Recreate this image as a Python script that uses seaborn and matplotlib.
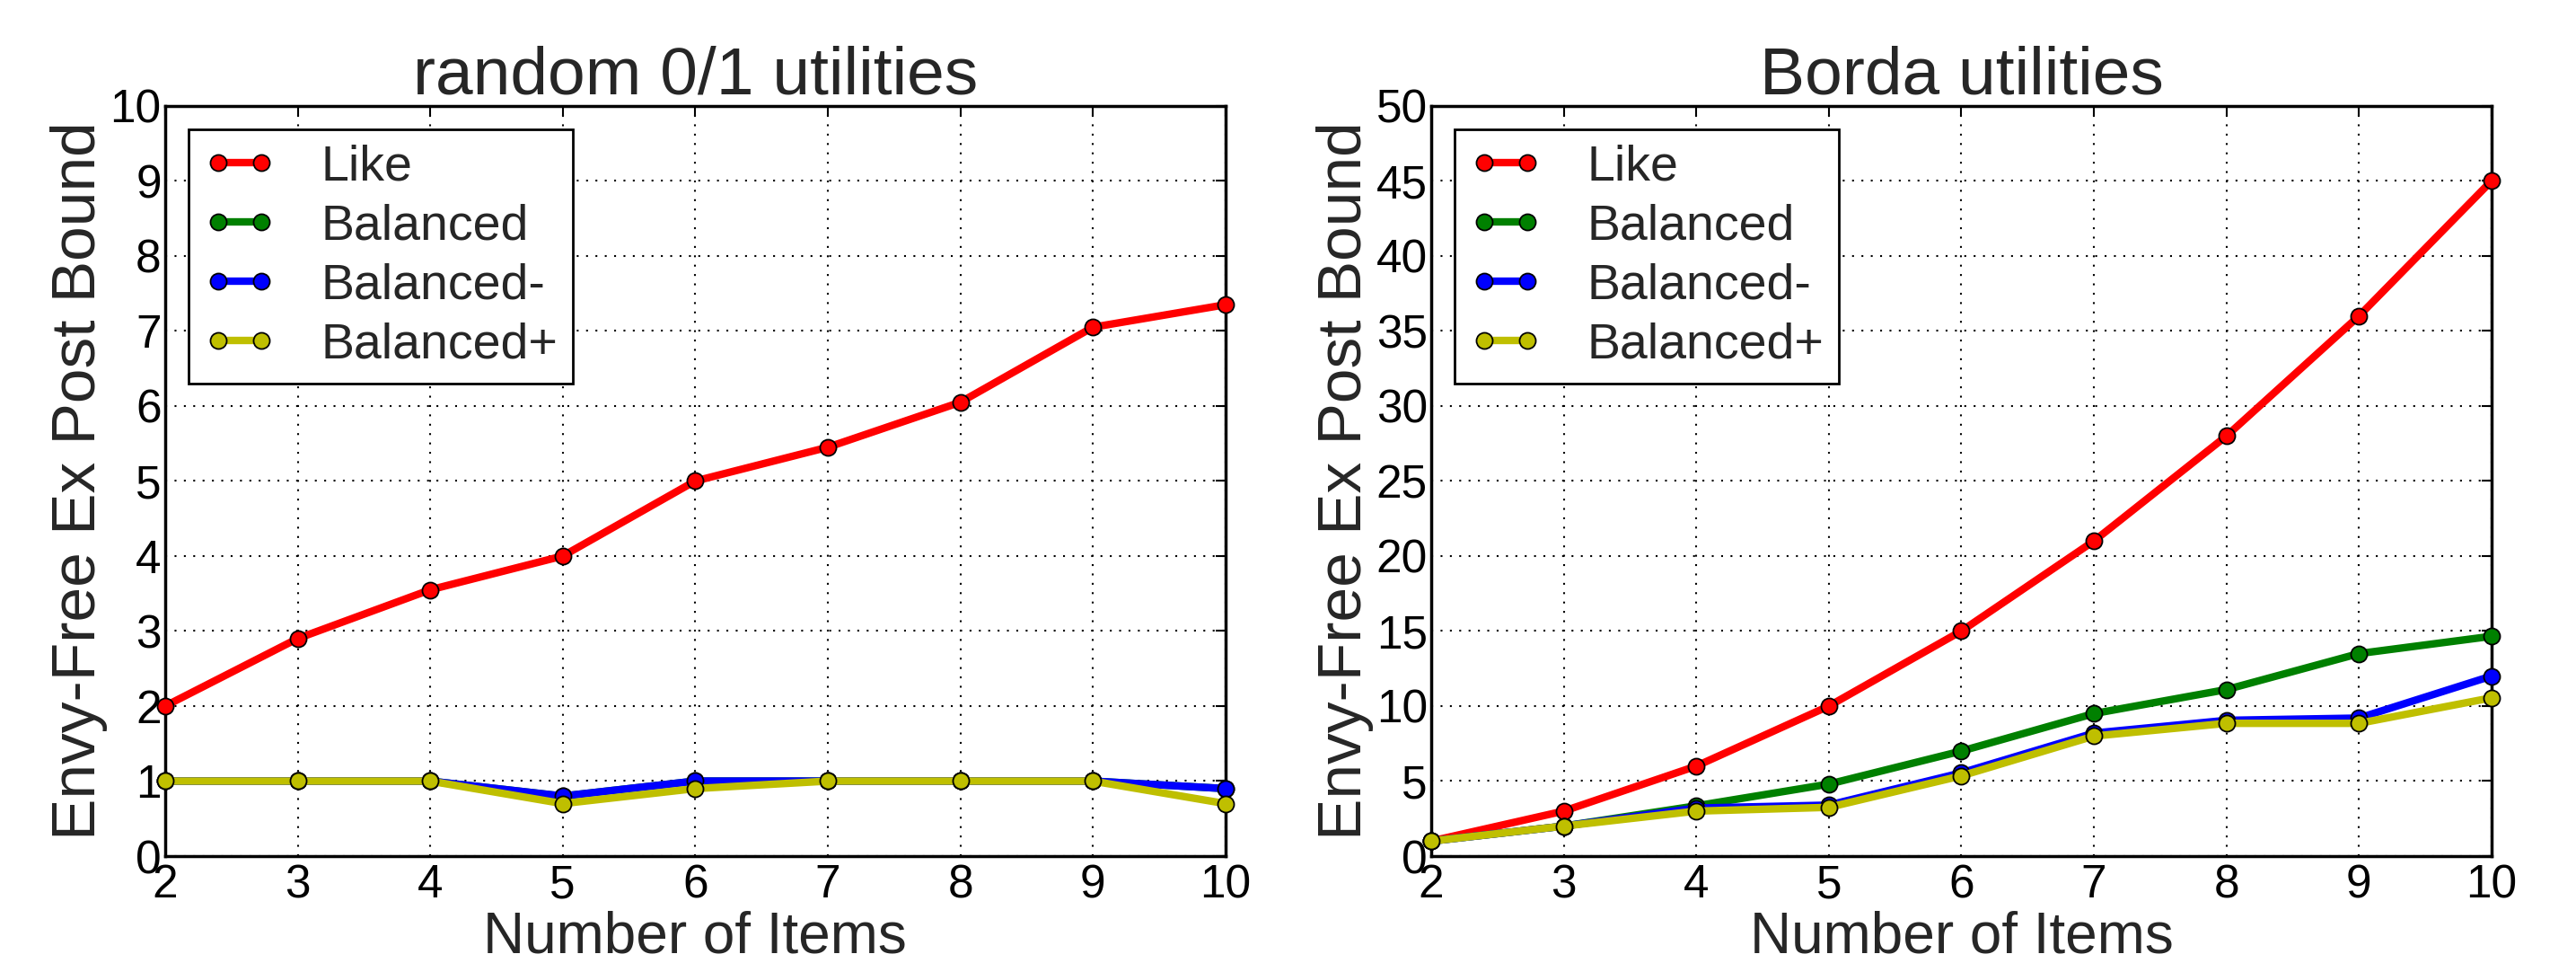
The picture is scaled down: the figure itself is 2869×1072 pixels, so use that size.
import matplotlib
matplotlib.use("Agg")
import matplotlib.pyplot as plt
import seaborn as sns
import pandas as pd

items = [2, 3, 4, 5, 6, 7, 8, 9, 10]

# random 0/1 utilities
rand_like = [2.0, 2.9, 3.55, 4.0, 5.0, 5.45, 6.05, 7.05, 7.35]
rand_balanced = [1.0, 1.0, 1.0, 0.8, 1.0, 1.0, 1.0, 1.0, 0.9]
rand_balanced_minus = [1.0, 1.0, 1.0, 0.8, 1.0, 1.0, 1.0, 1.0, 0.9]
rand_balanced_plus = [1.0, 1.0, 1.0, 0.7, 0.9, 1.0, 1.0, 1.0, 0.7]

# Borda utilities
borda_like = [1, 3, 6, 10, 15, 21, 28, 36, 45]
borda_balanced = [1.0, 2.0, 3.35, 4.8, 7.0, 9.5, 11.1, 13.5, 14.65]
borda_balanced_minus = [1.0, 2.0, 3.2, 3.4, 5.55, 8.2, 9.05, 9.2, 12.0]
borda_balanced_plus = [1.0, 2.0, 3.0, 3.25, 5.35, 8.0, 8.85, 8.85, 10.55]

series_names = ["Like", "Balanced", "Balanced-", "Balanced+"]
colors = {"Like": "#ff0000", "Balanced": "#008000", "Balanced-": "#0000ff", "Balanced+": "#bfbf00"}

panels = [
    ("random 0/1 utilities", [rand_like, rand_balanced, rand_balanced_minus, rand_balanced_plus], (0, 10), range(0, 11, 1)),
    ("Borda utilities", [borda_like, borda_balanced, borda_balanced_minus, borda_balanced_plus], (0, 50), range(0, 51, 5)),
]

sns.set_theme(style="white")
plt.rcParams["font.family"] = ["Liberation Sans", "DejaVu Sans"]

fig = plt.figure(figsize=(28.69, 10.72), dpi=100)
positions = [[0.0641, 0.111, 0.4116, 0.779], [0.5556, 0.111, 0.4116, 0.779]]

for (title, vals, ylim, yticks), pos in zip(panels, positions):
    ax = fig.add_axes(pos)
    df = pd.DataFrame({"items": items * 4,
                       "value": [v for s in vals for v in s],
                       "series": [n for n in series_names for _ in items]})
    for name in series_names:
        sub = df[df["series"] == name]
        sns.lineplot(data=sub, x="items", y="value", ax=ax, color=colors[name],
                     linewidth=6, marker="o", markersize=13, markeredgecolor="black",
                     markeredgewidth=1.3, label=name, clip_on=False, zorder=3)
    ax.set_xlim(2, 10)
    ax.set_ylim(*ylim)
    ax.set_xticks(items)
    ax.set_yticks(list(yticks))
    ax.grid(True, color="black", linestyle=(0, (1, 4)), linewidth=1.5)
    for sp in ax.spines.values():
        sp.set_visible(True)
        sp.set_color("black")
        sp.set_linewidth(2.5)
    ax.tick_params(axis="both", which="both", direction="in", length=8, width=1.5,
                   top=True, right=True, labelsize=37, pad=6, colors="black")
    ax.tick_params(axis="y", pad=3)
    ax.set_title(title, fontsize=54, pad=10)
    ax.set_xlabel("Number of Items", fontsize=46, labelpad=2)
    ax.set_ylabel("Envy-Free Ex Post Bound", fontsize=50, labelpad=2)
    leg = ax.legend(loc="upper left", fontsize=40, numpoints=2, handlelength=1.45,
                    handletextpad=0.9, labelspacing=0.25, borderpad=0.3,
                    fancybox=False, framealpha=1, edgecolor="black",
                    bbox_to_anchor=(0.0, 1.0), borderaxespad=0.47)
    leg.get_frame().set_linewidth(2)

fig.savefig("out.png", dpi=100)
